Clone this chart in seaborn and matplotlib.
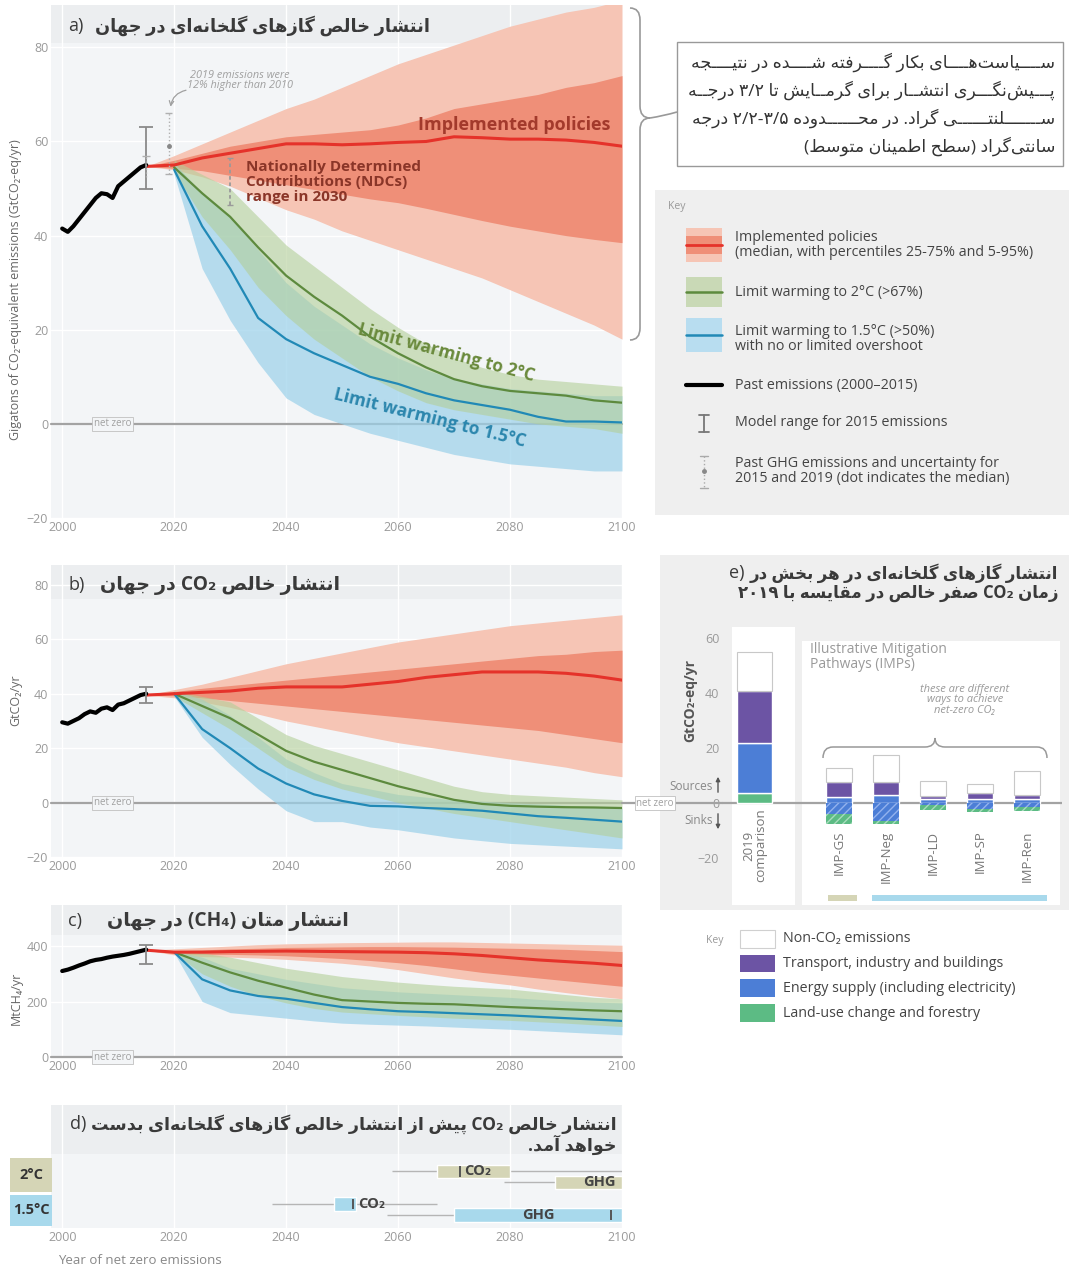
import re
import matplotlib
matplotlib.use("Agg")
import matplotlib.pyplot as plt
import seaborn as sns
from matplotlib.patches import Rectangle, PathPatch, FancyArrowPatch
from matplotlib.path import Path
from matplotlib.lines import Line2D

# ---------------- data ----------------
past_years = list(range(2000, 2016))
policy_years = list(range(2015, 2101, 5))
mitig_years = list(range(2020, 2101, 5))

# a) net GHG emissions, GtCO2-eq/yr
ghg_past = [41.5, 40.8, 42.0, 43.5, 45.0, 46.5, 48.0, 49.0, 48.8, 48.0, 50.5, 51.5, 52.5, 53.5, 54.5, 55.0]
ghg_pol_med = [54.7, 55.0, 56.5, 57.5, 58.5, 59.5, 59.5, 59.3, 59.5, 59.8, 60.0, 61.0, 60.8, 60.5, 60.5, 60.3, 59.8, 59.0]
ghg_pol_p25 = [54.7, 54.3, 53.8, 52.8, 51.8, 50.8, 49.8, 48.8, 47.8, 47.0, 45.8, 44.5, 43.2, 42.0, 41.0, 40.0, 39.2, 38.5]
ghg_pol_p75 = [54.7, 56.0, 57.5, 59.0, 60.0, 61.0, 61.5, 62.0, 62.5, 63.5, 65.0, 67.0, 68.0, 69.0, 70.0, 71.5, 72.5, 74.0]
ghg_pol_p5 = [54.7, 54.0, 52.5, 50.5, 48.0, 45.5, 43.5, 41.0, 39.0, 37.0, 35.0, 33.0, 31.0, 28.5, 26.0, 23.5, 21.0, 18.0]
ghg_pol_p95 = [54.7, 57.0, 59.5, 62.0, 64.5, 67.0, 69.0, 71.5, 74.0, 76.5, 78.5, 80.5, 82.5, 84.5, 86.0, 87.5, 88.5, 90.0]
ghg_2c_med = [54.5, 49.0, 44.0, 37.5, 31.5, 27.0, 23.0, 18.5, 15.0, 12.0, 9.5, 8.0, 7.0, 6.5, 6.0, 5.0, 4.5]
ghg_2c_lo = [53.5, 44.0, 37.0, 29.0, 23.0, 18.0, 14.0, 10.0, 7.0, 4.5, 3.0, 2.0, 1.0, 0.0, -0.5, -1.0, -2.0]
ghg_2c_hi = [56.0, 53.0, 50.0, 44.0, 38.0, 33.5, 29.0, 24.5, 20.5, 17.0, 14.0, 12.0, 10.5, 9.5, 9.0, 8.5, 8.0]
ghg_15c_med = [54.0, 42.0, 33.0, 22.5, 18.0, 15.0, 12.5, 10.0, 8.5, 6.5, 5.0, 4.0, 3.0, 1.5, 0.5, 0.5, 0.3]
ghg_15c_lo = [53.0, 33.0, 22.0, 13.0, 5.5, 2.0, 0.0, -2.0, -3.5, -5.0, -6.5, -7.5, -8.5, -9.0, -9.5, -10.0, -10.0]
ghg_15c_hi = [55.5, 49.0, 44.0, 37.0, 30.0, 25.0, 21.0, 17.0, 14.0, 11.5, 9.5, 8.5, 7.5, 7.0, 6.5, 6.0, 6.0]
ghg_model_2015 = (50.0, 63.0)
ghg_unc_2015 = (52.5, 57.0)
ghg_2019 = (53.0, 59.0, 66.0)   # low, median, high
ndc_2030 = (46.5, 56.5)

# b) net CO2 emissions, GtCO2/yr
co2_past = [29.5, 29.0, 30.0, 31.0, 32.5, 33.5, 33.0, 34.5, 35.0, 34.0, 36.0, 36.5, 37.5, 38.5, 39.5, 40.0]
co2_pol_med = [39.5, 40.0, 40.5, 41.0, 42.0, 42.5, 42.5, 42.5, 43.5, 44.5, 46.0, 47.0, 48.0, 48.0, 48.0, 47.5, 46.5, 45.0]
co2_pol_p25 = [39.5, 39.2, 38.5, 37.5, 36.5, 35.5, 34.5, 33.5, 32.5, 31.5, 30.5, 29.5, 28.5, 27.5, 26.5, 25.0, 23.5, 22.0]
co2_pol_p75 = [39.5, 40.8, 42.0, 43.0, 44.0, 45.0, 46.0, 47.0, 48.0, 49.0, 50.0, 51.0, 52.0, 53.0, 54.0, 54.5, 55.5, 56.0]
co2_pol_p5 = [39.5, 38.5, 37.0, 35.0, 32.5, 30.0, 28.0, 26.0, 24.0, 22.0, 20.5, 19.0, 17.5, 16.0, 14.5, 13.0, 11.0, 9.5]
co2_pol_p95 = [39.5, 41.5, 43.5, 46.0, 48.5, 51.0, 53.0, 55.0, 57.0, 59.0, 60.5, 62.0, 63.5, 65.0, 66.0, 67.0, 68.0, 69.0]
co2_2c_med = [40.0, 35.5, 31.0, 25.0, 19.0, 15.0, 12.0, 9.0, 6.0, 3.5, 1.0, -0.5, -1.2, -1.5, -1.7, -1.8, -2.0]
co2_2c_lo = [39.0, 33.0, 27.0, 20.0, 13.0, 8.5, 5.0, 2.5, 0.0, -2.0, -4.0, -5.5, -7.0, -8.5, -10.0, -11.5, -13.0]
co2_2c_hi = [41.0, 39.0, 37.0, 31.0, 25.0, 21.0, 18.0, 15.0, 12.0, 9.0, 6.0, 4.0, 3.0, 2.5, 2.0, 1.5, 1.0]
co2_15c_med = [40.0, 27.0, 20.0, 12.5, 7.0, 3.0, 0.6, -1.2, -1.4, -2.0, -2.4, -3.0, -4.0, -5.0, -5.6, -6.3, -7.0]
co2_15c_lo = [39.0, 24.0, 14.0, 5.0, -3.0, -7.0, -7.0, -9.0, -10.0, -11.5, -13.0, -14.0, -15.0, -15.5, -16.0, -16.5, -17.0]
co2_15c_hi = [41.0, 38.0, 32.0, 24.0, 16.0, 11.0, 7.0, 5.0, 3.0, 2.0, 1.0, 0.5, 0.0, -0.5, -1.0, -1.5, -2.0]
co2_model_2015 = (36.5, 42.5)

# c) methane, MtCH4/yr
ch4_past = [310, 315, 322, 330, 337, 345, 350, 353, 358, 362, 365, 368, 372, 377, 382, 387]
ch4_pol_med = [385, 378, 378, 380, 381, 382, 381, 380, 379, 378, 376, 372, 366, 358, 350, 344, 338, 330]
ch4_pol_p25 = [385, 372, 370, 370, 368, 365, 360, 355, 348, 340, 330, 318, 305, 295, 285, 275, 265, 255]
ch4_pol_p75 = [385, 384, 386, 390, 392, 395, 396, 397, 398, 398, 397, 396, 394, 392, 390, 388, 384, 380]
ch4_pol_p5 = [385, 368, 362, 360, 357, 352, 345, 338, 328, 315, 300, 285, 272, 260, 245, 232, 220, 210]
ch4_pol_p95 = [385, 390, 395, 400, 405, 408, 410, 412, 413, 414, 415, 415, 413, 411, 409, 407, 405, 403]
ch4_2c_med = [378, 340, 305, 275, 250, 225, 205, 200, 195, 192, 190, 185, 180, 176, 172, 168, 165]
ch4_2c_lo = [375, 300, 255, 220, 195, 175, 162, 156, 150, 145, 140, 136, 132, 127, 122, 116, 110]
ch4_2c_hi = [382, 375, 360, 340, 320, 305, 290, 280, 270, 262, 255, 250, 245, 235, 225, 215, 210]
ch4_15c_med = [378, 280, 240, 220, 210, 195, 180, 172, 165, 162, 158, 154, 150, 145, 140, 135, 130]
ch4_15c_lo = [375, 200, 160, 150, 140, 130, 122, 118, 115, 112, 108, 104, 100, 95, 90, 85, 80]
ch4_15c_hi = [382, 360, 320, 300, 280, 265, 250, 242, 235, 230, 225, 220, 215, 208, 202, 198, 195]
ch4_model_2015 = (335, 405)

# d) year of net zero (whisker low, box low, median, box high, whisker high)
d_gas = ["CO₂", "GHG", "CO₂", "GHG"]
d_group = ["2°C", "2°C", "1.5°C", "1.5°C"]
d_whisk_lo = [2059, 2079, 2037.5, 2058]
d_box_lo = [2067, 2088, 2048.5, 2070]
d_median = [2071, None, 2052, 2098]
d_box_hi = [2080, 2100, 2052.5, 2100]
d_whisk_hi = [2100, 2100, 2067, 2100]

# e) sectoral emissions at net-zero CO2
e_cats = ["2019\ncomparison", "IMP-GS", "IMP-Neg", "IMP-LD", "IMP-SP", "IMP-Ren"]
e_landuse_pos = [3.6, 0, 0, 0, 0, 0]
e_energy_pos = [18.4, 2.4, 2.9, 1.5, 1.5, 1.5]
e_transport = [18.7, 5.2, 4.7, 1.1, 2.0, 1.4]
e_nonco2 = [14.3, 5.3, 10.0, 5.6, 3.3, 8.6]
e_energy_neg = [0, -4.0, -6.5, -0.8, -2.0, -1.5]
e_landuse_neg = [0, -3.6, -1.1, -1.6, -1.3, -1.4]
e_key_labels = ["Non-CO₂ emissions", "Transport, industry and buildings",
                "Energy supply (including electricity)", "Land-use change and forestry"]

# ---------------- Persian text shaping (presentation forms + simple bidi) ----------------
FORMS = {
    "ا": (0xFE8D, 0xFE8E), "آ": (0xFE81, 0xFE82), "د": (0xFEA9, 0xFEAA), "ذ": (0xFEAB, 0xFEAC),
    "ر": (0xFEAD, 0xFEAE), "ز": (0xFEAF, 0xFEB0), "ژ": (0xFB8A, 0xFB8B), "و": (0xFEED, 0xFEEE),
    "ب": (0xFE8F, 0xFE90, 0xFE91, 0xFE92), "پ": (0xFB56, 0xFB57, 0xFB58, 0xFB59),
    "ت": (0xFE95, 0xFE96, 0xFE97, 0xFE98), "ث": (0xFE99, 0xFE9A, 0xFE9B, 0xFE9C),
    "ج": (0xFE9D, 0xFE9E, 0xFE9F, 0xFEA0), "چ": (0xFB7A, 0xFB7B, 0xFB7C, 0xFB7D),
    "ح": (0xFEA1, 0xFEA2, 0xFEA3, 0xFEA4), "خ": (0xFEA5, 0xFEA6, 0xFEA7, 0xFEA8),
    "س": (0xFEB1, 0xFEB2, 0xFEB3, 0xFEB4), "ش": (0xFEB5, 0xFEB6, 0xFEB7, 0xFEB8),
    "ص": (0xFEB9, 0xFEBA, 0xFEBB, 0xFEBC), "ض": (0xFEBD, 0xFEBE, 0xFEBF, 0xFEC0),
    "ط": (0xFEC1, 0xFEC2, 0xFEC3, 0xFEC4), "ظ": (0xFEC5, 0xFEC6, 0xFEC7, 0xFEC8),
    "ع": (0xFEC9, 0xFECA, 0xFECB, 0xFECC), "غ": (0xFECD, 0xFECE, 0xFECF, 0xFED0),
    "ف": (0xFED1, 0xFED2, 0xFED3, 0xFED4), "ق": (0xFED5, 0xFED6, 0xFED7, 0xFED8),
    "ک": (0xFB8E, 0xFB8F, 0xFB90, 0xFB91), "گ": (0xFB92, 0xFB93, 0xFB94, 0xFB95),
    "ل": (0xFEDD, 0xFEDE, 0xFEDF, 0xFEE0), "م": (0xFEE1, 0xFEE2, 0xFEE3, 0xFEE4),
    "ن": (0xFEE5, 0xFEE6, 0xFEE7, 0xFEE8), "ه": (0xFEE9, 0xFEEA, 0xFEEB, 0xFEEC),
    "ی": (0xFBFC, 0xFBFD, 0xFBFE, 0xFBFF), "ي": (0xFEF1, 0xFEF2, 0xFEF3, 0xFEF4),
    "ـ": (0x640, 0x640, 0x640, 0x640),
}
LTR_RUN = re.compile(r"[A-Za-z0-9\u06F0-\u06F9][A-Za-z0-9\u06F0-\u06F9\u2080-\u2089/.\-]*")
MIRROR = str.maketrans("()", ")(")


def shape(s):
    out = []
    for i, ch in enumerate(s):
        f = FORMS.get(ch)
        if f is None:
            out.append(ch)
            continue
        prev = s[i - 1] if i > 0 else ""
        nxt = s[i + 1] if i + 1 < len(s) else ""
        jp = prev in FORMS and len(FORMS[prev]) == 4
        jn = len(f) == 4 and nxt in FORMS
        if len(f) == 2:
            out.append(chr(f[1] if jp else f[0]))
        else:
            out.append(chr(f[3] if (jp and jn) else f[1] if jp else f[2] if jn else f[0]))
    return "".join(out).replace("\u200c", "")


def fa(s):
    s = shape(s)
    parts, pos = [], 0
    for m in LTR_RUN.finditer(s):
        if m.start() > pos:
            parts.append(("r", s[pos:m.start()]))
        parts.append(("l", m.group()))
        pos = m.end()
    if pos < len(s):
        parts.append(("r", s[pos:]))
    return "".join(t[::-1].translate(MIRROR) if k == "r" else t for k, t in reversed(parts))


title_a = "انتشار خالص گازهای گلخانه‌ای در جهان"
title_b = "انتشار خالص CO₂ در جهان"
title_c = "انتشار متان (CH₄) در جهان"
title_d = ["انتشار خالص CO₂ پیش از انتشار خالص گازهای گلخانه‌ای بدست", "خواهد آمد."]
title_e = ["انتشار گازهای گلخانه‌ای در هر بخش در", "زمان CO₂ صفر خالص در مقایسه با ۲۰۱۹"]
box_lines = ["سیاست‌های بکار گرفته شده در نتیجه",
             "پیش‌نگری انتشار برای گرمایش تا ۳/۲ درجه",
             "سلنتی گراد. در محدوده ۲/۲-۳/۵ درجه",
             "سانتی‌گراد (سطح اطمینان متوسط)"]

# ---------------- style ----------------
RED, RED_DARK, RED_LIGHT = "#e5322a", "#ef8f78", "#f6c5b5"
GREEN, GREEN_BAND = "#5d8a3e", "#b3cf98"
BLUE, BLUE_BAND = "#2189b6", "#9bd1ea"
PURPLE, EBLUE, EGREEN = "#6c54a4", "#4c7ed6", "#5cbb84"
KHAKI, LBLUE = "#d5d5b6", "#a8d9ec"
TXT, TICK, ZERO = "#3a3a3a", "#9a9a9a", "#a3a3a3"

sns.set_theme(style="darkgrid", rc={"axes.facecolor": "#f3f5f7", "grid.color": "white",
                                    "grid.linewidth": 1.0, "figure.facecolor": "white"})
plt.rcParams["font.family"] = ["Open Sans", "DejaVu Sans"]

W, H = 1069, 1269
fig = plt.figure(figsize=(W / 100, H / 100), dpi=100)
rend = fig.canvas.get_renderer()


def rect(l, t, r, b):
    return [l / W, 1 - b / H, (r - l) / W, (b - t) / H]


def ptext(x, y, s, **kw):
    return fig.text(x / W, 1 - y / H, s, **kw)


def prect(l, t, r, b, **kw):
    fig.add_artist(Rectangle((l / W, 1 - b / H), (r - l) / W, (b - t) / H,
                             transform=fig.transFigure, **kw))


def pline(xs, ys, **kw):
    fig.add_artist(Line2D([x / W for x in xs], [1 - y / H for y in ys],
                          transform=fig.transFigure, **kw))


def ppath(pts, codes, **kw):
    p = Path([(x / W, 1 - y / H) for x, y in pts], codes)
    fig.add_artist(PathPatch(p, transform=fig.transFigure, fc="none", **kw))


def justify(t, logical, target):
    # stretch a Persian line with kashida (tatweel) until it reaches the target width
    cands = [i for i in range(len(logical) - 1)
             if len(FORMS.get(logical[i], ())) == 4 and logical[i + 1] in FORMS][::3]
    counts = [0] * len(cands)
    for k in range(120):
        if t.get_window_extent(rend).width >= target or not cands:
            break
        counts[k % len(cands)] += 1
        s = logical
        for i, c in sorted(zip(cands, counts), reverse=True):
            s = s[:i + 1] + "ـ" * c + s[i + 1:]
        t.set_text(fa(s))


def style_time_axis(ax, ylim, yticks, band):
    ax.set_xlim(1998, 2100)
    ax.set_ylim(*ylim)
    ax.set_xticks(range(2000, 2101, 20))
    ax.set_yticks(yticks)
    ax.tick_params(axis="both", colors=TICK, labelsize=9, length=0, pad=2)
    ax.set_xlabel("")
    ax.set_ylabel("")
    for sp in ax.spines.values():
        sp.set_visible(False)
    ax.add_patch(Rectangle((0, band), 1, 1 - band, transform=ax.transAxes,
                           fc="#eceef0", ec="none", zorder=0.3))


def draw_pathways(ax, past, pmed, p5, p25, p75, p95, gmed, glo, ghi, bmed, blo, bhi):
    ax.fill_between(policy_years, p5, p95, color=RED_LIGHT, lw=0, zorder=2)
    ax.fill_between(policy_years, p25, p75, color=RED_DARK, lw=0, zorder=2.1)
    ax.fill_between(mitig_years, blo, bhi, color=BLUE_BAND, alpha=0.7, lw=0, zorder=2.2)
    ax.fill_between(mitig_years, glo, ghi, color=GREEN_BAND, alpha=0.6, lw=0, zorder=2.3)
    sns.lineplot(x=mitig_years, y=gmed, ax=ax, color=GREEN, lw=1.6, zorder=3)
    sns.lineplot(x=mitig_years, y=bmed, ax=ax, color=BLUE, lw=1.6, zorder=3)
    sns.lineplot(x=policy_years, y=pmed, ax=ax, color=RED, lw=2.2, zorder=3.2)
    sns.lineplot(x=past_years, y=past, ax=ax, color="black", lw=3, zorder=4)


def model_bar(ax, lo, hi, cap=1.2):
    ax.vlines(2015, lo, hi, color="#8a8a8a", lw=1.3, zorder=5)
    ax.hlines([lo, hi], 2015 - cap, 2015 + cap, color="#8a8a8a", lw=1.3, zorder=5)


def net_zero(ax, x=2009):
    ax.axhline(0, color=ZERO, lw=1.6, zorder=1.5, clip_on=False)
    ax.text(x, 0, "net zero", ha="center", va="center", fontsize=7, color="#a0a0a0", zorder=6,
            bbox=dict(boxstyle="square,pad=0.15", fc="#f3f5f7", ec="#c0c0c0", lw=0.6))


# ---------------- panel a ----------------
ax_a = fig.add_axes(rect(51, 5, 622, 518))
style_time_axis(ax_a, (-20, 89), range(-20, 81, 20), 0.925)
net_zero(ax_a)
draw_pathways(ax_a, ghg_past, ghg_pol_med, ghg_pol_p5, ghg_pol_p25, ghg_pol_p75, ghg_pol_p95,
              ghg_2c_med, ghg_2c_lo, ghg_2c_hi, ghg_15c_med, ghg_15c_lo, ghg_15c_hi)
model_bar(ax_a, *ghg_model_2015)
ax_a.vlines(2015, *ghg_unc_2015, color="#b0b0b0", lw=1, linestyles=":", zorder=5)
ax_a.hlines(ghg_unc_2015[1], 2014.3, 2015.7, color="#b0b0b0", lw=1, zorder=5)
ax_a.vlines(2019, ghg_2019[0], ghg_2019[2], color="#b0b0b0", lw=1, linestyles=":", zorder=5)
ax_a.hlines([ghg_2019[0], ghg_2019[2]], 2018.3, 2019.7, color="#b0b0b0", lw=1, zorder=5)
ax_a.plot([2019], [ghg_2019[1]], "o", ms=2.5, color="#888", zorder=5)
ax_a.vlines(2030, *ndc_2030, color="#9a9a9a", lw=1.3, linestyles=(0, (2, 1.5)), zorder=5)
ax_a.hlines(ndc_2030, 2029.4, 2030.6, color="#9a9a9a", lw=1, zorder=5)
ax_a.text(2031.8, 73, "2019 emissions were\n12% higher than 2010", ha="center", va="center",
          fontsize=7.8, style="italic", color="#a0a0a0", linespacing=0.95, zorder=6)
ax_a.add_patch(FancyArrowPatch((2022.6, 71.0), (2019.3, 66.8), connectionstyle="arc3,rad=0.4",
                               arrowstyle="->", mutation_scale=8, color="#a0a0a0", lw=0.9, zorder=6))
ax_a.text(2098, 63.6, "Implemented policies", ha="right", va="center", fontsize=13,
          weight="bold", color="#a33a2c", zorder=6)
ax_a.text(2032.8, 51.4, "Nationally Determined\nContributions (NDCs)\nrange in 2030", ha="left",
          va="center", fontsize=11, weight="bold", color="#8a3528", linespacing=1.1, zorder=6)
ax_a.text(2068.6, 15.0, "Limit warming to 2°C", rotation=-15, rotation_mode="anchor", ha="center",
          va="center", fontsize=12.5, weight="bold", color="#6a8a3c", zorder=6)
ax_a.text(2065.7, 1.2, "Limit warming to 1.5°C", rotation=-14, rotation_mode="anchor", ha="center",
          va="center", fontsize=12.5, weight="bold", color="#2b86ad", zorder=6)
ptext(68, 26, "a)", fontsize=13, color=TXT, va="center")
ptext(95, 26, fa(title_a), fontsize=12.8, weight="bold", color=TXT, va="center")
ptext(16, 290, "Gigatons of CO₂-equivalent emissions (GtCO₂-eq/yr)", rotation=90, ha="center",
      va="center", fontsize=9, color="#666")

# ---------------- panel b ----------------
ax_b = fig.add_axes(rect(51, 565, 622, 857))
style_time_axis(ax_b, (-20, 87.3), range(-20, 81, 20), 0.885)
net_zero(ax_b)
draw_pathways(ax_b, co2_past, co2_pol_med, co2_pol_p5, co2_pol_p25, co2_pol_p75, co2_pol_p95,
              co2_2c_med, co2_2c_lo, co2_2c_hi, co2_15c_med, co2_15c_lo, co2_15c_hi)
model_bar(ax_b, *co2_model_2015)
ptext(68, 585, "b)", fontsize=13, color=TXT, va="center")
ptext(100, 585, fa(title_b), fontsize=13.8, weight="bold", color=TXT, va="center")
ptext(16, 700, "GtCO₂/yr", rotation=90, ha="center", va="center", fontsize=9, color="#666")

# ---------------- panel c ----------------
ax_c = fig.add_axes(rect(51, 905, 622, 1057))
style_time_axis(ax_c, (0, 548), [0, 200, 400], 0.8)
net_zero(ax_c)
draw_pathways(ax_c, ch4_past, ch4_pol_med, ch4_pol_p5, ch4_pol_p25, ch4_pol_p75, ch4_pol_p95,
              ch4_2c_med, ch4_2c_lo, ch4_2c_hi, ch4_15c_med, ch4_15c_lo, ch4_15c_hi)
model_bar(ax_c, *ch4_model_2015)
ptext(68, 921, "c)", fontsize=13, color=TXT, va="center")
ptext(107, 921, fa(title_c), fontsize=13.8, weight="bold", color=TXT, va="center")
ptext(16, 998, "MtCH₄/yr", rotation=90, ha="center", va="center", fontsize=9, color="#666")

# ---------------- panel d ----------------
ax_d = fig.add_axes(rect(51, 1105, 622, 1228))
style_time_axis(ax_d, (0, 10), [], 0.6)
ax_d.set_yticks([])
row_y = [4.6, 3.7, 1.95, 1.05]
row_col = {"2°C": KHAKI, "1.5°C": LBLUE}
for i, y in enumerate(row_y):
    col = row_col[d_group[i]]
    ax_d.hlines(y, d_whisk_lo[i], d_whisk_hi[i], color="#b5b5b5", lw=1, zorder=2)
    ax_d.barh(y, d_box_hi[i] - d_box_lo[i], left=d_box_lo[i], height=1.1, color=col, zorder=3)
    if d_median[i] is not None:
        ax_d.vlines(d_median[i], y - 0.42, y + 0.42, color="#555", lw=1.4, zorder=4)
    tx = d_median[i] + 0.8 if d_gas[i] == "CO₂" else (d_box_lo[i] + d_box_hi[i]) / 2 + (2 if i == 1 else 0)
    ax_d.text(tx, y, d_gas[i], ha="left" if d_gas[i] == "CO₂" else "center", va="center",
              fontsize=10.5, weight="bold", color="#444", zorder=5)
prect(10, 1158, 52, 1192, fc=KHAKI, ec="none")
prect(10, 1195, 52, 1226, fc=LBLUE, ec="none")
ptext(31, 1175, "2°C", ha="center", va="center", fontsize=10.5, weight="bold", color="#333")
ptext(31, 1210, "1.5°C", ha="center", va="center", fontsize=10.5, weight="bold", color="#333")
ptext(58, 1260, "Year of net zero emissions", fontsize=9.5, color="#888", va="center")
td1 = ptext(617, 1124, fa(title_d[0]), ha="right", va="center", fontsize=12.6, weight="bold", color=TXT)
ptext(617, 1145, fa(title_d[1]), ha="right", va="center", fontsize=12.6, weight="bold", color=TXT)

# ---------------- panel e ----------------
prect(660, 555, 1069, 910, fc="#efefef", ec="none", zorder=0)
ax_e = fig.add_axes(rect(722, 625, 1062, 905))
ax_e.set_facecolor("#efefef")
ax_e.grid(False)
for sp in ax_e.spines.values():
    sp.set_visible(False)
ax_e.set_xlim(-0.7, 6.55)
ax_e.set_ylim(-37, 64.7)
ax_e.set_xticks([])
ax_e.set_yticks(range(-20, 61, 20))
ax_e.tick_params(axis="y", colors=TICK, labelsize=9, length=0, pad=2)
ax_e.add_patch(Rectangle((-0.49, -37), 1.35, 101, fc="white", ec="none", zorder=0.8))
ax_e.add_patch(Rectangle((1.0, -37), 5.5, 96, fc="white", ec="none", zorder=0.8))
ax_e.axhline(0, color=ZERO, lw=1.6, zorder=2)

x_e = [0] + [1.8 + i for i in range(len(e_cats) - 1)]
w_e = [0.75] + [0.56] * (len(e_cats) - 1)
b1 = e_landuse_pos
b2 = [a + b for a, b in zip(b1, e_energy_pos)]
b3 = [a + b for a, b in zip(b2, e_transport)]
ax_e.bar(x_e, e_landuse_pos, width=w_e, color=EGREEN, zorder=3)
ax_e.bar(x_e, e_energy_pos, width=w_e, bottom=b1, color=EBLUE, zorder=3)
ax_e.bar(x_e, e_transport, width=w_e, bottom=b2, color=PURPLE, zorder=3)
ax_e.bar(x_e, e_nonco2, width=w_e, bottom=b3, color="white", edgecolor="#c8c8c8", lw=0.8, zorder=3)
ax_e.bar(x_e, e_energy_neg, width=w_e, color=EBLUE, hatch="////", edgecolor="#93b2ee", lw=0, zorder=3)
ax_e.bar(x_e, e_landuse_neg, width=w_e, bottom=e_energy_neg, color=EGREEN, hatch="////",
         edgecolor="#a7dcbc", lw=0, zorder=3)
for i, (x, lab) in enumerate(zip(x_e, e_cats)):
    ax_e.text(x, -2.0 if i == 0 else -10.0, lab, rotation=90, ha="center", va="top", fontsize=9.5,
              color="#777", linespacing=0.95, zorder=4)
ax_e.add_patch(Rectangle((1.56, -35.6), 0.62, 2.2, fc=KHAKI, ec="none", zorder=4))
ax_e.add_patch(Rectangle((2.5, -35.6), 3.73, 2.2, fc=LBLUE, ec="none", zorder=4))
ax_e.text(1.18, 58.5, "Illustrative Mitigation\nPathways (IMPs)", va="top", ha="left",
          fontsize=10, color="#9a9a9a", linespacing=1.0, zorder=4)
ax_e.text(4.48, 37.5, "these are different\nways to achieve\nnet-zero CO₂", ha="center",
          va="center", fontsize=8, style="italic", color="#9a9a9a", linespacing=0.9, zorder=4)
ppath([(823, 758), (823, 747), (833, 747), (925, 747), (935, 747), (935, 738),
       (935, 747), (945, 747), (1037, 747), (1047, 747), (1047, 758)],
      [Path.MOVETO, Path.CURVE3, Path.CURVE3, Path.LINETO, Path.CURVE3, Path.CURVE3,
       Path.CURVE3, Path.CURVE3, Path.LINETO, Path.CURVE3, Path.CURVE3], ec="#999", lw=1.1)
ptext(690, 700, "GtCO₂-eq/yr", rotation=90, ha="center", va="center", fontsize=10,
      color="#555", weight="bold")
ptext(713, 786, "Sources", ha="right", va="center", fontsize=8.5, color="#888")
ptext(713, 820, "Sinks", ha="right", va="center", fontsize=8.5, color="#888")
fig.add_artist(FancyArrowPatch((718 / W, 1 - 795 / H), (718 / W, 1 - 774 / H), transform=fig.transFigure,
                               arrowstyle="-|>", mutation_scale=6, color="#555", lw=1))
fig.add_artist(FancyArrowPatch((718 / W, 1 - 811 / H), (718 / W, 1 - 832 / H), transform=fig.transFigure,
                               arrowstyle="-|>", mutation_scale=6, color="#555", lw=1))
te1 = ptext(1058, 573, fa(title_e[0]), ha="right", va="center", fontsize=12, weight="bold", color=TXT)
ptext(1058, 593, fa(title_e[1]), ha="right", va="center", fontsize=12, weight="bold", color=TXT)

# net zero line bridging panels b and e
pline([622, 722], [803, 803], color=ZERO, lw=1.6)
ptext(655, 803, "net zero", ha="center", va="center", fontsize=7, color="#a0a0a0",
      bbox=dict(boxstyle="square,pad=0.15", fc="white", ec="#c0c0c0", lw=0.6))

# key for panel e
ptext(706, 940, "Key", fontsize=7.5, color="#999", va="center")
e_key_cols = ["white", PURPLE, EBLUE, EGREEN]
for i, (lab, col) in enumerate(zip(e_key_labels, e_key_cols)):
    y0 = 930 + i * 24.7
    prect(740, y0, 775, y0 + 17.5, fc=col, ec="#d0d0d0" if col == "white" else "none", lw=0.8)
    ptext(783, y0 + 9, lab, va="center", fontsize=10.3, color="#444")

# ---------------- right-hand key and note for panel a ----------------
prect(655, 190, 1069, 515, fc="#efefef", ec="none", zorder=0)
ptext(668, 207, "Key", fontsize=7.5, color="#999", va="center")
prect(686, 228, 722, 262, fc=RED_LIGHT, ec="none")
prect(686, 236, 722, 254, fc=RED_DARK, ec="none")
pline([686, 722], [245, 245], color=RED, lw=2)
prect(686, 277, 722, 307, fc="#c9d9b6", ec="none")
pline([686, 722], [292, 292], color=GREEN, lw=1.8)
prect(686, 318, 722, 352, fc="#b8ddf0", ec="none")
pline([686, 722], [335, 335], color=BLUE, lw=1.8)
pline([686, 722], [385, 385], color="black", lw=3)
pline([704, 704], [415, 432], color="#777", lw=1.3)
pline([699, 709], [415, 415], color="#777", lw=1.3)
pline([699, 709], [432, 432], color="#777", lw=1.3)
pline([704, 704], [456, 488], color="#aaa", lw=1, ls=":")
pline([700, 708], [456, 456], color="#aaa", lw=1)
pline([700, 708], [488, 488], color="#aaa", lw=1)
fig.add_artist(Line2D([704 / W], [1 - 471 / H], marker="o", ms=2.5, color="#888", transform=fig.transFigure))
key_items = [(245, "Implemented policies\n(median, with percentiles 25-75% and 5-95%)"),
             (292, "Limit warming to 2°C (>67%)"),
             (339, "Limit warming to 1.5°C (>50%)\nwith no or limited overshoot"),
             (385, "Past emissions (2000–2015)"),
             (423, "Model range for 2015 emissions"),
             (471, "Past GHG emissions and uncertainty for\n2015 and 2019 (dot indicates the median)")]
for y, lab in key_items:
    ptext(735, y, lab, va="center", fontsize=10.3, color="#444", linespacing=1.0)

prect(677, 42, 1063, 166, fc="white", ec="#999", lw=1)
for i, line in enumerate(box_lines):
    t = ptext(1055, 62 + i * 28, fa(line), ha="right", va="center", fontsize=12.5, color="#333")
    if i < len(box_lines) - 1:
        justify(t, line, 362)

# big brace linking the policy fan to the note
ppath([(630, 8), (640, 8), (640, 20), (640, 106), (640, 118), (650, 118),
       (640, 118), (640, 130), (640, 328), (640, 340), (630, 340)],
      [Path.MOVETO, Path.CURVE3, Path.CURVE3, Path.LINETO, Path.CURVE3, Path.CURVE3,
       Path.CURVE3, Path.CURVE3, Path.LINETO, Path.CURVE3, Path.CURVE3], ec="#999", lw=1.2)
ppath([(650, 118), (663, 116), (677, 112)], [Path.MOVETO, Path.CURVE3, Path.CURVE3], ec="#999", lw=1.2)

# panel letters placed left of the right-aligned Persian titles
ptext(te1.get_window_extent(rend).x0 - 5, 573, "e)", ha="right", va="center", fontsize=13, color=TXT)
ptext(td1.get_window_extent(rend).x0 - 5, 1124, "d)", ha="right", va="center", fontsize=13, color=TXT)

fig.savefig("out.png", dpi=100)
